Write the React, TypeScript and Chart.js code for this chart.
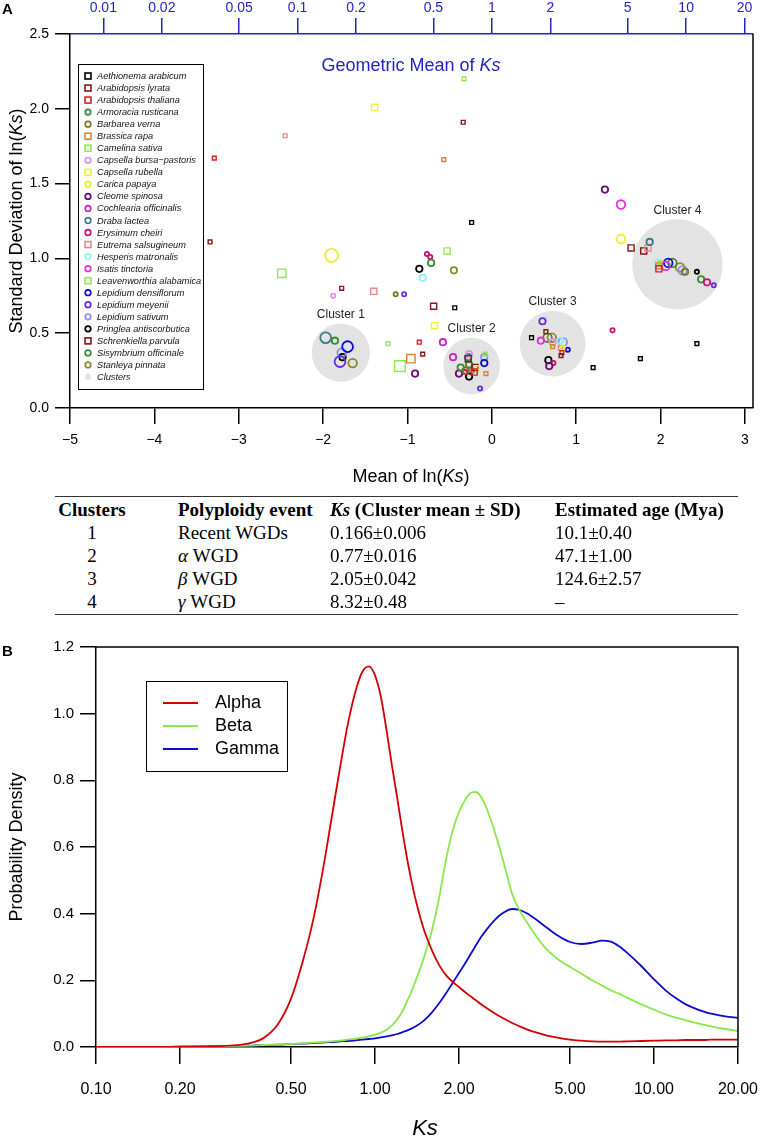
import React, { useEffect, useRef } from "react";
import { Chart, registerables } from "chart.js";
Chart.register(...registerables);

const FONT = "'Liberation Sans', Arial, Helvetica, sans-serif";
const SERIF = "'Liberation Serif', 'Times New Roman', Times, serif";

// ---------- Panel A data ----------
const speciesNames = [
  "Aethionema arabicum", "Arabidopsis lyrata", "Arabidopsis thaliana", "Armoracia rusticana",
  "Barbarea verna", "Brassica rapa", "Camelina sativa", "Capsella bursa\u2212pastoris",
  "Capsella rubella", "Carica papaya", "Cleome spinosa", "Cochlearia officinalis",
  "Draba lactea", "Erysimum cheiri", "Eutrema salsugineum", "Hesperis matronalis",
  "Isatis tinctoria", "Leavenworthia alabamica", "Lepidium densiflorum", "Lepidium meyenii",
  "Lepidium sativum", "Pringlea antiscorbutica", "Schrenkiella parvula", "Sisymbrium officinale",
  "Stanleya pinnata",
];
const speciesShapes = [
  "rect", "rect", "rect", "circle", "circle", "rect", "rect", "circle", "rect", "circle",
  "circle", "circle", "circle", "circle", "rect", "circle", "circle", "rect", "circle", "circle",
  "circle", "circle", "rect", "circle", "circle",
];
const speciesColors = [
  "#000000", "#7f1a1a", "#d62020", "#3a8a3a", "#7a7a1a", "#e0802a", "#8fe84f", "#e08ef0",
  "#f2f23a", "#eeee2c", "#6a0a72", "#cc22cc", "#3f7a82", "#cc1170", "#e48a8a", "#8ff0ff",
  "#e030e0", "#98e860", "#0a0ad8", "#6a28e0", "#8a8af0", "#000000", "#801818", "#3f8a28",
  "#8a8a28",
];

// [mean ln(Ks), sd ln(Ks), weight]
const aethionemaArabicum = [[-0.24, 1.24, 1], [-0.44, 0.67, 1], [0.47, 0.47, 1], [1.2, 0.27, 1], [1.76, 0.33, 1], [2.43, 0.43, 1]];
const arabidopsisLyrata = [[-0.34, 1.91, 1], [-3.34, 1.11, 1], [-1.78, 0.8, 1], [-0.69, 0.68, 2], [-0.28, 0.33, 2], [0.82, 0.35, 1], [1.65, 1.07, 2]];
const arabidopsisThaliana = [[-3.29, 1.67, 1], [-0.86, 0.44, 1], [-0.21, 0.24, 2], [0.83, 0.37, 1], [1.98, 0.93, 2]];
const armoraciaRusticana = [[-1.86, 0.45, 2], [-0.37, 0.27, 2], [-0.72, 0.97, 2]];
const barbareaVerna = [[-1.14, 0.76, 1], [-0.31, 0.25, 2], [2.29, 0.91, 2]];
const brassicaRapa = [[-0.57, 1.66, 1], [-0.96, 0.33, 3], [-0.07, 0.23, 1], [0.72, 0.41, 1], [1.98, 0.95, 2]];
const camelinaSativa = [[-0.33, 2.2, 1], [-2.49, 0.9, 3], [-1.09, 0.28, 4], [-0.08, 0.36, 1], [1.99, 0.97, 1]];
const capsellaBursaPastoris = [[-1.88, 0.75, 1], [-0.27, 0.36, 2], [0.72, 0.44, 2]];
const capsellaRubella = [[-1.39, 2.01, 2], [-0.68, 0.55, 2], [-0.17, 0.27, 1], [0.84, 0.4, 1]];
const caricaPapaya = [[-1.9, 1.02, 5], [1.53, 1.13, 3]];
const cleomeSpinosa = [[1.34, 1.46, 2], [-0.91, 0.23, 2], [-0.39, 0.23, 2], [0.68, 0.28, 2]];
const cochleariaOfficinalis = [[-0.58, 0.44, 2], [-0.46, 0.34, 2]];
const drabaLactea = [[-1.97, 0.47, 4], [-0.28, 0.34, 2], [1.87, 1.11, 2]];
const erysimumCheiri = [[-0.77, 1.03, 1], [-0.73, 1.01, 1], [-0.32, 0.24, 1], [0.73, 0.3, 1], [1.43, 0.52, 1], [2.55, 0.84, 2]];
const eutremaSalsugineum = [[-2.45, 1.82, 1], [-1.4, 0.78, 2], [0.81, 0.4, 1], [1.85, 1.07, 2]];
const hesperisMatronalis = [[-0.82, 0.87, 2], [0.81, 0.45, 2], [1.97, 0.97, 2]];
const isatisTinctoria = [[0.58, 0.45, 2], [1.53, 1.36, 3], [2.06, 0.95, 3]];
const leavenworthiaAlabamica = [[-0.53, 1.05, 2], [-1.23, 0.43, 1]];
const lepidiumDensiflorum = [[-1.71, 0.41, 4], [-0.09, 0.3, 2], [0.9, 0.39, 1], [2.09, 0.97, 3]];
const lepidiumMeyenii = [[-1.04, 0.76, 1], [-1.8, 0.31, 4], [-0.14, 0.13, 1], [0.6, 0.58, 2], [2.63, 0.82, 1]];
const lepidiumSativum = [[-1.78, 0.37, 3], [-0.09, 0.34, 2], [0.84, 0.44, 3], [2.26, 0.92, 3]];
const pringleaAntiscorbutica = [[-0.86, 0.93, 2], [-1.77, 0.34, 2], [-0.27, 0.21, 2], [0.67, 0.32, 2], [2.43, 0.91, 1]];
const schrenkiellaParvula = [[-0.82, 0.36, 1], [-0.2, 0.27, 2], [0.64, 0.51, 1], [1.8, 1.05, 2]];
const sisymbriumOfficinale = [[-0.27, 0.29, 2], [0.66, 0.47, 3], [2.14, 0.97, 3], [2.48, 0.86, 2]];
const stanleyaPinnata = [[-0.45, 0.92, 2], [-1.65, 0.3, 3], [-0.25, 0.25, 2], [0.71, 0.47, 3], [2.23, 0.94, 3]];

const speciesPoints = [
  aethionemaArabicum, arabidopsisLyrata, arabidopsisThaliana, armoraciaRusticana, barbareaVerna,
  brassicaRapa, camelinaSativa, capsellaBursaPastoris, capsellaRubella, caricaPapaya, cleomeSpinosa,
  cochleariaOfficinalis, drabaLactea, erysimumCheiri, eutremaSalsugineum, hesperisMatronalis,
  isatisTinctoria, leavenworthiaAlabamica, lepidiumDensiflorum, lepidiumMeyenii, lepidiumSativum,
  pringleaAntiscorbutica, schrenkiellaParvula, sisymbriumOfficinale, stanleyaPinnata,
];

const clusterNames = ["Cluster 1", "Cluster 2", "Cluster 3", "Cluster 4"];
const clusterMeanLnKs = [-1.79, -0.24, 0.72, 2.2];
const clusterSdLnKs = [0.37, 0.28, 0.43, 0.96];
const clusterSpread = [0.345, 0.335, 0.39, 0.535]; // radius in ln(Ks) units

const xTicksA = [-5, -4, -3, -2, -1, 0, 1, 2, 3];
const yTicksA = [0, 0.5, 1, 1.5, 2, 2.5];
const topAxisKs = [0.01, 0.02, 0.05, 0.1, 0.2, 0.5, 1, 2, 5, 10, 20];
const X_MIN_A = -5;
const X_MAX_A = 3.095;

// ---------- Table ----------
const tableClusters = ["1", "2", "3", "4"];
const tableGreek = ["", "\u03b1", "\u03b2", "\u03b3"];
const tableEvents = ["Recent WGDs", "WGD", "WGD", "WGD"];
const tableKs = ["0.166\u00b10.006", "0.77\u00b10.016", "2.05\u00b10.042", "8.32\u00b10.48"];
const tableAge = ["10.1\u00b10.40", "47.1\u00b11.00", "124.6\u00b12.57", "\u2013"];

// ---------- Panel B data ----------
const densityKs = [
  0.1, 0.15, 0.2, 0.25, 0.3, 0.35, 0.4, 0.45, 0.5, 0.55, 0.6, 0.65, 0.7, 0.75, 0.8, 0.85, 0.9, 0.95,
  1.0, 1.05, 1.1, 1.15, 1.2, 1.25, 1.3, 1.35, 1.4,
  1.5, 1.6, 1.7, 1.8, 1.9, 2.0, 2.1, 2.2, 2.3, 2.4, 2.5,
  2.7, 2.9, 3.1, 3.3, 3.5,
  3.8, 4.1, 4.5,
  5.0, 5.5, 6.0, 6.5, 7.0, 7.5, 8.0,
  9, 10, 11, 12, 13, 14, 15, 16, 18, 20,
];
const alphaDensity = [
  0, 0, 0.001, 0.002, 0.004, 0.01, 0.028, 0.07, 0.145, 0.255, 0.38, 0.53, 0.69, 0.84, 0.97, 1.065, 1.125, 1.142,
  1.115, 1.05, 0.95, 0.845, 0.75, 0.655, 0.57, 0.5, 0.44,
  0.35, 0.29, 0.245, 0.215, 0.195, 0.18, 0.165, 0.152, 0.14, 0.128, 0.118,
  0.1, 0.085, 0.072, 0.062, 0.053,
  0.043, 0.035, 0.028,
  0.022, 0.019, 0.017, 0.016, 0.016, 0.016, 0.017,
  0.018, 0.019, 0.02, 0.02, 0.021, 0.021, 0.021, 0.022, 0.022, 0.022,
];
const betaDensity = [
  0, 0, 0.001, 0.002, 0.003, 0.004, 0.006, 0.007, 0.009, 0.011, 0.013, 0.015, 0.017, 0.019, 0.022, 0.025, 0.028, 0.032,
  0.037, 0.043, 0.052, 0.065, 0.082, 0.105, 0.135, 0.165, 0.2,
  0.27, 0.35, 0.45, 0.565, 0.65, 0.705, 0.74, 0.762, 0.765, 0.75, 0.72,
  0.64, 0.55, 0.46, 0.41, 0.375,
  0.33, 0.295, 0.265,
  0.24, 0.22, 0.2, 0.185, 0.17, 0.16, 0.148,
  0.128, 0.112, 0.098, 0.088, 0.08, 0.073, 0.067, 0.062, 0.054, 0.048,
];
const gammaDensity = [
  0, 0, 0.001, 0.002, 0.003, 0.004, 0.006, 0.007, 0.009, 0.01, 0.012, 0.013, 0.015, 0.017, 0.018, 0.02, 0.022, 0.024,
  0.026, 0.029, 0.032, 0.035, 0.039, 0.044, 0.049, 0.055, 0.062,
  0.08, 0.104, 0.132, 0.162, 0.193, 0.222, 0.25, 0.278, 0.305, 0.33, 0.35,
  0.383, 0.404, 0.414, 0.411, 0.401,
  0.381, 0.36, 0.335,
  0.315, 0.309, 0.313, 0.319, 0.316, 0.302, 0.283,
  0.243, 0.203, 0.17, 0.146, 0.128, 0.116, 0.107, 0.1, 0.092, 0.087,
];
const densityLabels = ["Alpha", "Beta", "Gamma"];
const densityColors = ["#d40000", "#8ae84a", "#0a0ad0"];
const ksTicks = [0.1, 0.2, 0.5, 1, 2, 5, 10, 20];
const yTicksB = [0, 0.2, 0.4, 0.6, 0.8, 1.0, 1.2];

// ---------- helpers ----------
const minus = (v: number) => (v < 0 ? "\u2212" + Math.abs(v) : String(v));
const CLUSTER_FILL = "#e3e3e3";
const AXIS_BLUE = "#2222cc";

function circleRadius(w: number) { return 1.0 + 1.1 * w; }
function rectRadius(w: number) { const side = 1.5 + 2.3 * w; return side / (2 * Math.SQRT1_2); }

const boxAPlugin = {
  id: "boxA",
  beforeDatasetsDraw(chart: any) {
    const { ctx, chartArea: a } = chart;
    ctx.save();
    ctx.strokeStyle = "#000";
    ctx.lineWidth = 1.5;
    ctx.beginPath();
    ctx.moveTo(a.right, a.top);
    ctx.lineTo(a.right, a.bottom);
    ctx.stroke();
    ctx.restore();
  },
  afterDatasetsDraw(chart: any) {
    const { ctx, scales } = chart;
    const x = scales.x, y = scales.y;
    const unit = x.getPixelForValue(1) - x.getPixelForValue(0);
    ctx.save();
    ctx.font = `12px ${FONT}`;
    ctx.fillStyle = "#222";
    ctx.textAlign = "center";
    ctx.textBaseline = "middle";
    clusterNames.forEach((n, i) => {
      const cx = x.getPixelForValue(clusterMeanLnKs[i]);
      const cy = y.getPixelForValue(clusterSdLnKs[i]);
      ctx.fillText(n, cx, cy - clusterSpread[i] * unit - 9);
    });
    const left = 78, top = 64, w = 125, h = 325;
    ctx.fillStyle = "#fff";
    ctx.fillRect(left, top, w, h);
    ctx.strokeStyle = "#000";
    ctx.lineWidth = 1;
    ctx.strokeRect(left + 0.5, top + 0.5, w, h);
    ctx.font = `italic 9.2px ${FONT}`;
    ctx.textAlign = "left";
    const names = [...speciesNames, "Clusters"];
    names.forEach((n, i) => {
      const yy = top + 12 + i * 12.04;
      const xx = left + 10;
      if (i === speciesNames.length) {
        ctx.fillStyle = CLUSTER_FILL;
        ctx.beginPath();
        ctx.arc(xx, yy, 3, 0, Math.PI * 2);
        ctx.fill();
      } else if (speciesShapes[i] === "rect") {
        ctx.strokeStyle = speciesColors[i];
        ctx.lineWidth = 1.6;
        ctx.strokeRect(xx - 3, yy - 3, 6, 6);
      } else {
        ctx.strokeStyle = speciesColors[i];
        ctx.lineWidth = 1.7;
        ctx.beginPath();
        ctx.arc(xx, yy, 2.8, 0, Math.PI * 2);
        ctx.stroke();
      }
      ctx.fillStyle = "#111";
      ctx.fillText(n, left + 19, yy + 0.5);
    });
    ctx.restore();
  },
};

const boxBPlugin = {
  id: "boxB",
  afterDatasetsDraw(chart: any) {
    const { ctx, chartArea: a } = chart;
    ctx.save();
    ctx.strokeStyle = "#000";
    ctx.lineWidth = 1.5;
    ctx.beginPath();
    ctx.moveTo(a.left, a.top);
    ctx.lineTo(a.right, a.top);
    ctx.lineTo(a.right, a.bottom);
    ctx.stroke();
    const left = 146, top = 51, w = 141, h = 90;
    ctx.fillStyle = "#fff";
    ctx.fillRect(left, top, w, h);
    ctx.strokeStyle = "#000";
    ctx.lineWidth = 1;
    ctx.strokeRect(left + 0.5, top + 0.5, w, h);
    ctx.font = `18px ${FONT}`;
    ctx.textBaseline = "middle";
    ctx.textAlign = "left";
    densityLabels.forEach((n, i) => {
      const yy = top + 22 + i * 23;
      ctx.strokeStyle = densityColors[i];
      ctx.lineWidth = 2;
      ctx.beginPath();
      ctx.moveTo(left + 17, yy);
      ctx.lineTo(left + 52, yy);
      ctx.stroke();
      ctx.fillStyle = "#000";
      ctx.fillText(n, left + 69, yy);
    });
    ctx.restore();
  },
};

export default function App() {
  const refA = useRef<HTMLCanvasElement>(null);
  const refB = useRef<HTMLCanvasElement>(null);

  useEffect(() => {
    Chart.defaults.font.family = FONT;
    const speciesDatasets = speciesPoints.map((pts, i) => ({
      label: speciesNames[i],
      data: pts.map((p) => ({ x: p[0], y: p[1], w: p[2] })),
      pointStyle: speciesShapes[i],
      borderColor: speciesColors[i],
      backgroundColor: "rgba(0,0,0,0)",
      pointBorderWidth: speciesShapes[i] === "rect" ? 1.4 : 1.8,
      pointRadius: (c: any) => {
        const w = c.raw ? c.raw.w : 1;
        return speciesShapes[i] === "rect" ? rectRadius(w) : circleRadius(w);
      },
      order: 0,
    }));
    const clusterDataset = {
      label: "Clusters",
      data: clusterMeanLnKs.map((m, i) => ({ x: m, y: clusterSdLnKs[i] })),
      pointStyle: "circle",
      backgroundColor: CLUSTER_FILL,
      borderColor: CLUSTER_FILL,
      pointBorderWidth: 0,
      pointRadius: (c: any) => {
        const s = c.chart.scales.x;
        const unit = s.getPixelForValue(1) - s.getPixelForValue(0);
        return clusterSpread[c.dataIndex] * unit;
      },
      order: 1,
    };

    const chartA = new Chart(refA.current!, {
      type: "scatter",
      data: { datasets: [...speciesDatasets, clusterDataset] as any },
      plugins: [boxAPlugin],
      options: {
        responsive: false,
        animation: false,
        events: [],
        layout: { padding: { left: 0, right: 21, top: 0, bottom: 0 } },
        plugins: { legend: { display: false }, tooltip: { enabled: false } },
        scales: {
          x: {
            type: "linear",
            position: "bottom",
            min: X_MIN_A,
            max: X_MAX_A,
            afterBuildTicks: (s: any) => { s.ticks = xTicksA.map((v) => ({ value: v })); },
            afterFit: (s: any) => { s.height = 72; },
            ticks: { callback: (v: any) => minus(Number(v)), color: "#000", font: { size: 14 }, padding: 8, maxRotation: 0, autoSkip: false },
            grid: { drawOnChartArea: false, drawTicks: true, tickLength: 16, color: "#000", lineWidth: 1.5 },
            border: { display: true, color: "#000", width: 1.5 },
          },
          x2: {
            type: "linear",
            position: "top",
            min: X_MIN_A,
            max: X_MAX_A,
            afterBuildTicks: (s: any) => { s.ticks = topAxisKs.map((k) => ({ value: Math.log(k) })); },
            afterFit: (s: any) => { s.height = 34; },
            ticks: { callback: (_v: any, i: number) => String(topAxisKs[i]), color: AXIS_BLUE, font: { size: 14 }, padding: 1, maxRotation: 0, autoSkip: false },
            grid: { drawOnChartArea: false, drawTicks: true, tickLength: 16, color: AXIS_BLUE, lineWidth: 1.5 },
            border: { display: true, color: AXIS_BLUE, width: 1.5 },
          },
          y: {
            type: "linear",
            min: 0,
            max: 2.5,
            afterBuildTicks: (s: any) => { s.ticks = yTicksA.map((v) => ({ value: v })); },
            afterFit: (s: any) => { s.width = 70; },
            ticks: { callback: (v: any) => Number(v).toFixed(1), color: "#000", font: { size: 14 }, padding: 6, autoSkip: false },
            grid: { drawOnChartArea: false, drawTicks: true, tickLength: 15, color: "#000", lineWidth: 1.5 },
            border: { display: true, color: "#000", width: 1.5 },
          },
        },
      } as any,
    });

    const seriesB = [alphaDensity, betaDensity, gammaDensity];
    const chartB = new Chart(refB.current!, {
      type: "line",
      data: {
        datasets: seriesB.map((vals, i) => ({
          label: densityLabels[i],
          data: densityKs.map((k, j) => ({ x: k, y: vals[j] })),
          borderColor: densityColors[i],
          borderWidth: 1.8,
          pointRadius: 0,
          fill: false,
          cubicInterpolationMode: "monotone",
        })) as any,
      },
      plugins: [boxBPlugin],
      options: {
        responsive: false,
        animation: false,
        events: [],
        layout: { padding: { left: 0, right: 21, top: 17, bottom: 0 } },
        plugins: { legend: { display: false }, tooltip: { enabled: false } },
        scales: {
          x: {
            type: "logarithmic",
            min: 0.1,
            max: 20,
            afterBuildTicks: (s: any) => { s.ticks = ksTicks.map((v) => ({ value: v })); },
            afterFit: (s: any) => { s.height = 93; },
            ticks: { callback: (_v: any, i: number) => ksTicks[i].toFixed(2), color: "#000", font: { size: 16 }, padding: 16, maxRotation: 0, autoSkip: false },
            grid: { drawOnChartArea: false, drawTicks: true, tickLength: 17, color: "#000", lineWidth: 1.5 },
            border: { display: true, color: "#000", width: 1.5 },
          },
          y: {
            type: "linear",
            min: 0,
            max: 1.2,
            afterBuildTicks: (s: any) => { s.ticks = yTicksB.map((v) => ({ value: v })); },
            afterFit: (s: any) => { s.width = 96; },
            ticks: { callback: (v: any) => Number(v).toFixed(1), color: "#000", font: { size: 15 }, padding: 6, autoSkip: false },
            grid: { drawOnChartArea: false, drawTicks: true, tickLength: 16, color: "#000", lineWidth: 1.5 },
            border: { display: true, color: "#000", width: 1.5 },
          },
        },
      } as any,
    });

    return () => { chartA.destroy(); chartB.destroy(); };
  }, []);

  const abs = (s: React.CSSProperties): React.CSSProperties => ({ position: "absolute", whiteSpace: "nowrap", ...s });
  const rowY = [533, 556, 579, 602];
  const colL = [92, 178, 330, 555];

  return (
    <div style={{ position: "absolute", left: 0, top: 0, width: 774, height: 1140, background: "#fff", overflow: "hidden", fontFamily: FONT, color: "#000" }}>
      <canvas ref={refA} width={774} height={480} style={abs({ left: 0, top: 0, width: 774, height: 480 })} />
      <canvas ref={refB} width={774} height={510} style={abs({ left: 0, top: 630, width: 774, height: 510 })} />

      <div style={abs({ left: 2, top: 0, fontWeight: "bold", fontSize: 15, lineHeight: "18px" })}>A</div>
      <div style={abs({ left: 2, top: 642, fontWeight: "bold", fontSize: 15, lineHeight: "18px" })}>B</div>

      <div style={abs({ left: 411, top: 65, transform: "translate(-50%,-50%)", fontSize: 18, color: AXIS_BLUE })}>
        Geometric Mean of <i>Ks</i>
      </div>
      <div style={abs({ left: 411, top: 476, transform: "translate(-50%,-50%)", fontSize: 18 })}>
        Mean of ln(<i>Ks</i>)
      </div>
      <div style={abs({ left: 16, top: 221, transform: "translate(-50%,-50%) rotate(-90deg)", fontSize: 18 })}>
        Standard Deviation of ln(<i>Ks</i>)
      </div>

      {/* table */}
      <div style={abs({ left: 55, top: 496, width: 683, height: 0, borderTop: "1.3px solid #333" })} />
      <div style={abs({ left: 55, top: 614, width: 683, height: 0, borderTop: "1.3px solid #333" })} />
      <div style={{ fontFamily: SERIF, fontSize: 19 }}>
        <div style={abs({ left: colL[0], top: 510, transform: "translate(-50%,-50%)", fontWeight: "bold" })}>Clusters</div>
        <div style={abs({ left: colL[1], top: 510, transform: "translateY(-50%)", fontWeight: "bold" })}>Polyploidy event</div>
        <div style={abs({ left: colL[2], top: 510, transform: "translateY(-50%)", fontWeight: "bold" })}><i>Ks</i> (Cluster mean ± SD)</div>
        <div style={abs({ left: colL[3], top: 510, transform: "translateY(-50%)", fontWeight: "bold" })}>Estimated age (Mya)</div>
        {tableClusters.map((c, i) => (
          <React.Fragment key={c}>
            <div style={abs({ left: colL[0], top: rowY[i], transform: "translate(-50%,-50%)" })}>{c}</div>
            <div style={abs({ left: colL[1], top: rowY[i], transform: "translateY(-50%)" })}>
              {tableGreek[i] ? <i>{tableGreek[i]} </i> : null}{tableEvents[i]}
            </div>
            <div style={abs({ left: colL[2], top: rowY[i], transform: "translateY(-50%)" })}>{tableKs[i]}</div>
            <div style={abs({ left: colL[3], top: rowY[i], transform: "translateY(-50%)" })}>{tableAge[i]}</div>
          </React.Fragment>
        ))}
      </div>

      <div style={abs({ left: 16, top: 847, transform: "translate(-50%,-50%) rotate(-90deg)", fontSize: 18 })}>
        Probability Density
      </div>
      <div style={abs({ left: 425, top: 1128, transform: "translate(-50%,-50%)", fontSize: 22, fontStyle: "italic" })}>
        Ks
      </div>
    </div>
  );
}
